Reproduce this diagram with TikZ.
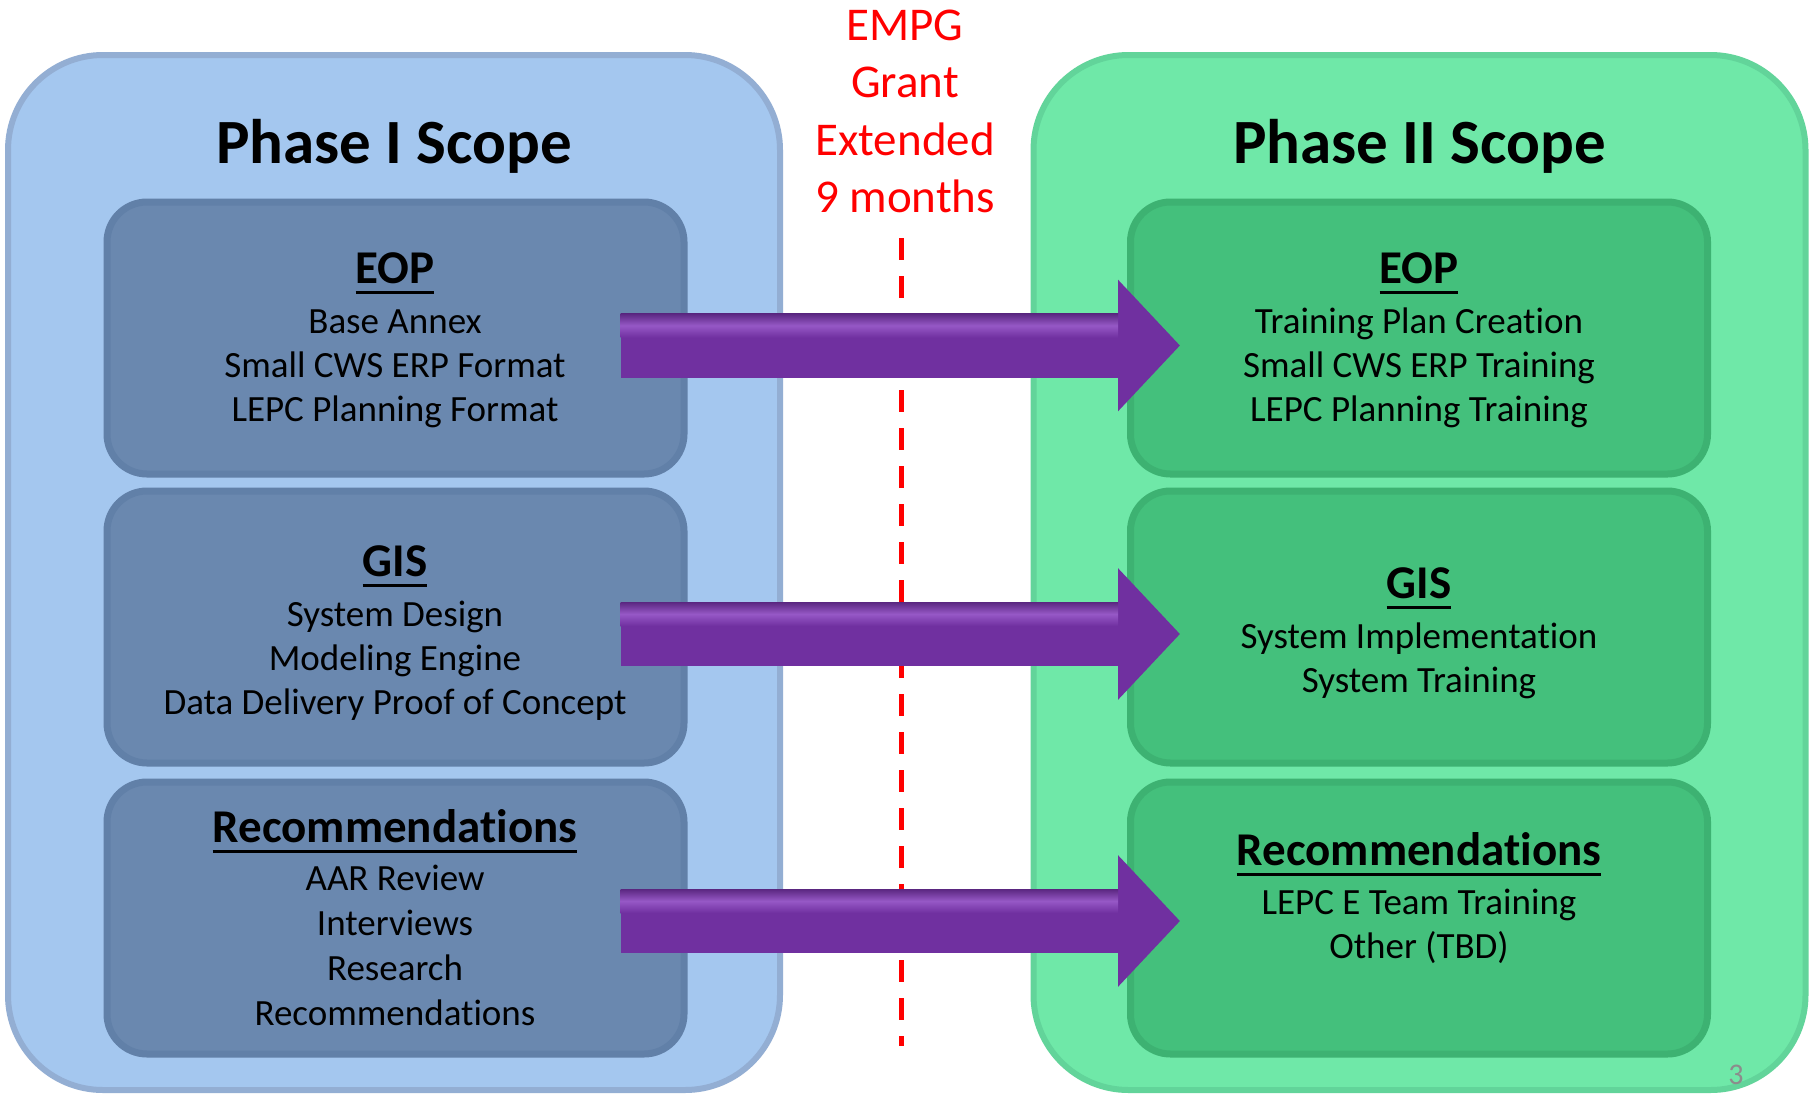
\documentclass[tikz,border=0pt]{standalone}
\usepackage{fontspec}
\setmainfont[Ligatures=NoCommon]{Carlito}
\usetikzlibrary{arrows.meta,calc}
\definecolor{outerLfill}{HTML}{A4C7EF}
\definecolor{outerLrim}{HTML}{93AED3}
\definecolor{innerLfill}{HTML}{6A88AF}
\definecolor{innerLrim}{HTML}{6180A8}
\definecolor{outerRfill}{HTML}{6FE8A8}
\definecolor{outerRrim}{HTML}{62D49A}
\definecolor{innerRfill}{HTML}{44C07C}
\definecolor{innerRrim}{HTML}{3DB272}
\definecolor{arrowc}{HTML}{7030A0}
\definecolor{arrowhi}{HTML}{9658C6}
\definecolor{empgred}{HTML}{FF0000}
\definecolor{pagenum}{HTML}{8C8C8C}
\newcommand\ulhd[1]{\setbox0\hbox{#1}\rlap{\vrule width\wd0 height -7.5pt depth 10.5pt}\box0}
\begin{document}
\begin{tikzpicture}[x=1pt,y=-1pt,
  outerbox/.style={rounded corners=95pt, minimum width=772pt, minimum height=1035pt, line width=6pt, inner sep=0pt},
  innerbox/.style={rounded corners=40pt, minimum width=577pt, minimum height=272pt, line width=7pt, inner sep=0pt},
  ttl/.style={font=\fontsize{63}{70}\selectfont\bfseries, anchor=base, inner sep=0pt},
  hd/.style={font=\fontsize{47}{52}\selectfont\bfseries, anchor=base, inner sep=0pt},
  bd/.style={font=\fontsize{37}{44}\selectfont, anchor=base, inner sep=0pt},
  redtxt/.style={font=\fontsize{47}{56}\selectfont, text=empgred, anchor=base, inner sep=0pt},
  bigarrow/.style={line width=64pt, draw=arrowc, -{Triangle[length=62pt,width=128pt]}},
  arrowshine/.style={top color=arrowc!80!black, bottom color=arrowc, middle color=arrowhi},
  cutline/.style={draw=empgred, line width=5pt, dash pattern=on 22pt off 16pt}]
\useasboundingbox (0,0) rectangle (1812,1093);
\fill[white] (0,0) rectangle (1812,1093);

% outer panels
\node[outerbox, fill=outerLfill, draw=outerLrim] (phase1) at (394,572.5) {};
\node[outerbox, fill=outerRfill, draw=outerRrim] (phase2) at (1419.5,572.5) {};

% inner boxes
\node[innerbox, fill=innerLfill, draw=innerLrim] (eop1) at (395.5,338) {};
\node[innerbox, fill=innerLfill, draw=innerLrim] (gis1) at (395.5,627) {};
\node[innerbox, fill=innerLfill, draw=innerLrim] (rec1) at (395.5,918) {};
\node[innerbox, fill=innerRfill, draw=innerRrim] (eop2) at (1419,338) {};
\node[innerbox, fill=innerRfill, draw=innerRrim] (gis2) at (1419,627) {};
\node[innerbox, fill=innerRfill, draw=innerRrim] (rec2) at (1419,918) {};

% titles
\node[ttl] (t1) at (394,163) {Phase I Scope};
\node[ttl] (t2) at (1419.5,163) {Phase II Scope};

% left texts
\node[hd] (eop1h) at (395,283) {\ulhd{EOP}};
\node[bd] (eop1a) at (395,333) {Base Annex};
\node[bd] (eop1b) at (395,377) {Small CWS ERP Format};
\node[bd] (eop1c) at (395,421) {LEPC Planning Format};

\node[hd] (gis1h) at (395,576) {\ulhd{GIS}};
\node[bd] (gis1a) at (395,626) {System Design};
\node[bd] (gis1b) at (395,670) {Modeling Engine};
\node[bd] (gis1c) at (395,714) {Data Delivery Proof of Concept};

\node[hd] (rec1h) at (395,842) {\ulhd{Recommendations}};
\node[bd] (rec1a) at (395,890) {AAR Review};
\node[bd] (rec1b) at (395,935) {Interviews};
\node[bd] (rec1c) at (395,980) {Research};
\node[bd] (rec1d) at (395,1025) {Recommendations};

% right texts
\node[hd] (eop2h) at (1419,283) {\ulhd{EOP}};
\node[bd] (eop2a) at (1419,333) {Training Plan Creation};
\node[bd] (eop2b) at (1419,377) {Small CWS ERP Training};
\node[bd] (eop2c) at (1419,421) {LEPC Planning Training};

\node[hd] (gis2h) at (1419,598) {\ulhd{GIS}};
\node[bd] (gis2a) at (1419,648) {System Implementation};
\node[bd] (gis2b) at (1419,692) {System Training};

\node[hd] (rec2h) at (1419,865) {\ulhd{Recommendations}};
\node[bd] (rec2a) at (1419,914) {LEPC E Team Training};
\node[bd] (rec2b) at (1419,958) {Other (TBD)};

% red label and dashed line
\node[redtxt] (r1) at (905,40) {EMPG};
\node[redtxt] (r2) at (905,97) {Grant};
\node[redtxt] (r3) at (905,155) {Extended};
\node[redtxt] (r4) at (905,212) {9 months};
\coordinate (cutTop) at (901,238);
\coordinate (cutBot) at (901,1046);
\draw[cutline] (cutTop) -- (cutBot);

% arrows
\foreach \n/\y in {1/345.5, 2/634, 3/921} {
  \coordinate (as\n) at (620.5,\y);
  \coordinate (ae\n) at (1180,\y);
  \draw[bigarrow] (as\n) -- (ae\n);
  \shade[arrowshine] ($(as\n)+(0,-32)$) rectangle ($(ae\n)+(-62,-8)$);
}

% page number
\node[font=\fontsize{30}{34}\selectfont, text=pagenum, inner sep=0pt] (pg) at (1736,1075) {3};
\end{tikzpicture}
\end{document}
